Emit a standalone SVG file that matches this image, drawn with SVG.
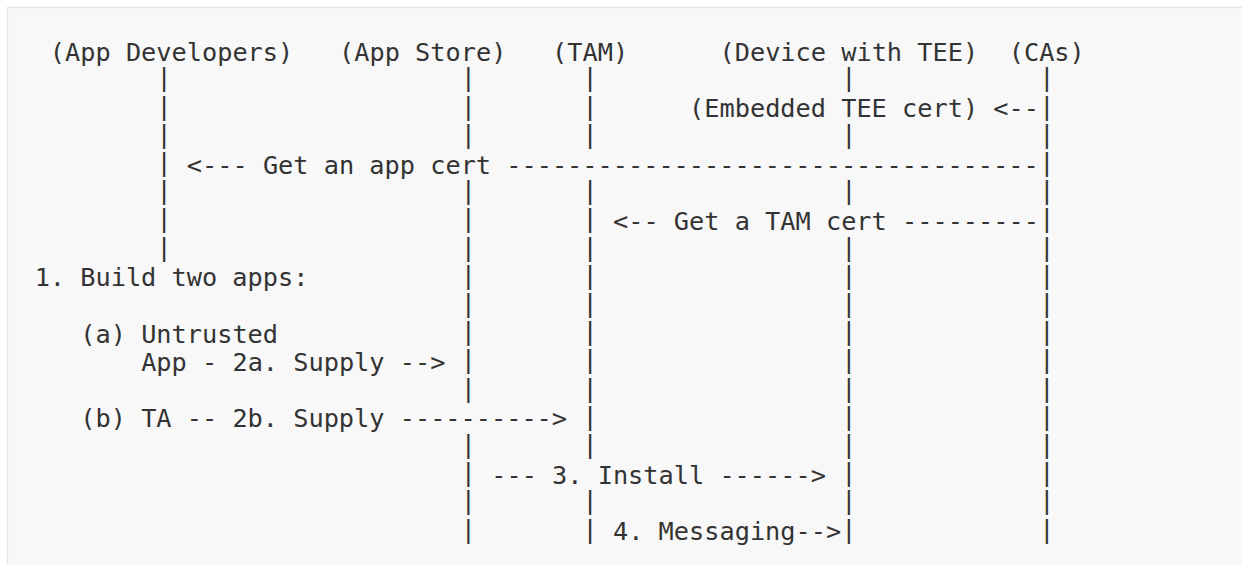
<svg xmlns="http://www.w3.org/2000/svg" width="1242" height="565" viewBox="0 0 1242 565" xml:space="preserve">
<style>
.t{font-family:"DejaVu Sans Mono","Liberation Mono",monospace;font-size:25.28px;fill:#333;white-space:pre}
</style>
<rect x="0" y="0" width="1242" height="565" fill="#ffffff"/>
<rect x="7.5" y="7.5" width="1300" height="600" fill="#f8f8f8" stroke="#e6e6e6" stroke-width="1.5"/>
<g id="app-developers">
<text class="t" x="49.85" y="60.7">(App Developers)</text>
<text class="t"><tspan x="156.39" y="86.4">|</tspan><tspan x="156.39" y="114.6">|</tspan><tspan x="156.39" y="142.8">|</tspan><tspan x="156.39" y="171">|</tspan><tspan x="156.39" y="199.2">|</tspan><tspan x="156.39" y="227.4">|</tspan><tspan x="156.39" y="255.6">|</tspan></text>
</g>
<g id="app-store">
<text class="t" x="339.03" y="60.7">(App Store)</text>
<text class="t"><tspan x="460.79" y="86.4">|</tspan><tspan x="460.79" y="114.6">|</tspan><tspan x="460.79" y="142.8">|</tspan><tspan x="460.79" y="199.2">|</tspan><tspan x="460.79" y="227.4">|</tspan><tspan x="460.79" y="255.6">|</tspan><tspan x="460.79" y="283.8">|</tspan><tspan x="460.79" y="312">|</tspan><tspan x="460.79" y="340.2">|</tspan><tspan x="460.79" y="368.4">|</tspan><tspan x="460.79" y="396.6">|</tspan><tspan x="460.79" y="453">|</tspan><tspan x="460.79" y="481.2">|</tspan><tspan x="460.79" y="509.4">|</tspan><tspan x="460.79" y="537.6">|</tspan></text>
</g>
<g id="tam">
<text class="t" x="552.11" y="60.7">(TAM)</text>
<text class="t"><tspan x="582.55" y="86.4">|</tspan><tspan x="582.55" y="114.6">|</tspan><tspan x="582.55" y="142.8">|</tspan><tspan x="582.55" y="199.2">|</tspan><tspan x="582.55" y="227.4">|</tspan><tspan x="582.55" y="255.6">|</tspan><tspan x="582.55" y="283.8">|</tspan><tspan x="582.55" y="312">|</tspan><tspan x="582.55" y="340.2">|</tspan><tspan x="582.55" y="368.4">|</tspan><tspan x="582.55" y="396.6">|</tspan><tspan x="582.55" y="424.8">|</tspan><tspan x="582.55" y="453">|</tspan><tspan x="582.55" y="509.4">|</tspan><tspan x="582.55" y="537.6">|</tspan></text>
</g>
<g id="device-with-tee">
<text class="t" x="719.53" y="60.7">(Device with TEE)</text>
<text class="t"><tspan x="841.29" y="86.4">|</tspan><tspan x="841.29" y="142.8">|</tspan><tspan x="841.29" y="199.2">|</tspan><tspan x="841.29" y="255.6">|</tspan><tspan x="841.29" y="283.8">|</tspan><tspan x="841.29" y="312">|</tspan><tspan x="841.29" y="340.2">|</tspan><tspan x="841.29" y="368.4">|</tspan><tspan x="841.29" y="396.6">|</tspan><tspan x="841.29" y="424.8">|</tspan><tspan x="841.29" y="453">|</tspan><tspan x="841.29" y="481.2">|</tspan><tspan x="841.29" y="509.4">|</tspan><tspan x="841.29" y="537.6">|</tspan></text>
</g>
<g id="cas">
<text class="t" x="1008.71" y="60.7">(CAs)</text>
<text class="t"><tspan x="1039.15" y="86.4">|</tspan><tspan x="1039.15" y="114.6">|</tspan><tspan x="1039.15" y="142.8">|</tspan><tspan x="1039.15" y="171">|</tspan><tspan x="1039.15" y="199.2">|</tspan><tspan x="1039.15" y="227.4">|</tspan><tspan x="1039.15" y="255.6">|</tspan><tspan x="1039.15" y="283.8">|</tspan><tspan x="1039.15" y="312">|</tspan><tspan x="1039.15" y="340.2">|</tspan><tspan x="1039.15" y="368.4">|</tspan><tspan x="1039.15" y="396.6">|</tspan><tspan x="1039.15" y="424.8">|</tspan><tspan x="1039.15" y="453">|</tspan><tspan x="1039.15" y="481.2">|</tspan><tspan x="1039.15" y="509.4">|</tspan><tspan x="1039.15" y="537.6">|</tspan></text>
</g>
<g id="connectors">
<text class="t" x="689.09" y="117.1">(Embedded TEE cert) &lt;--</text>
<text class="t" x="186.83" y="173.5">&lt;--- Get an app cert -----------------------------------</text>
<text class="t" x="612.99" y="229.9">&lt;-- Get a TAM cert ---------</text>
<text class="t" x="34.63" y="286.3">1. Build two apps:</text>
<text class="t" x="80.29" y="342.7">(a) Untrusted</text>
<text class="t" x="141.17" y="370.9">App - 2a. Supply --&gt;</text>
<text class="t" x="80.29" y="427.3">(b) TA -- 2b. Supply ----------&gt;</text>
<text class="t" x="491.23" y="483.7">--- 3. Install ------&gt;</text>
<text class="t" x="612.99" y="540.1">4. Messaging--&gt;</text>
</g>
</svg>
